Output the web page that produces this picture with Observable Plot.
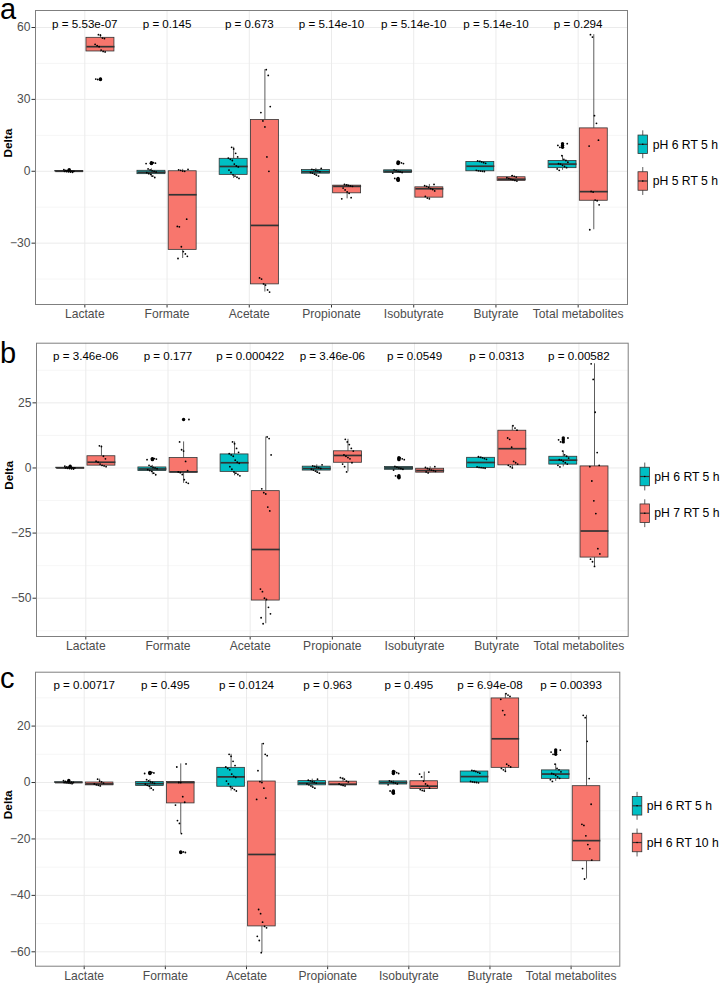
<!DOCTYPE html>
<html>
<head>
<meta charset="utf-8">
<script src="https://cdn.jsdelivr.net/npm/d3@7"></script>
<script src="https://cdn.jsdelivr.net/npm/@observablehq/plot@0.6"></script>
<style>
  body { margin: 0; background: #fff; font-family: "Liberation Sans", Arial, sans-serif; }
  #root { position: relative; width: 720px; height: 986px; overflow: hidden; background: #fff; }
  .panel { position: absolute; left: 0; }
  #overlay { position: absolute; left: 0; top: 0; pointer-events: none; }
</style>
</head>
<body>
<div id="root"></div>
<script>
// ---------------- DATA ----------------
const categories = ["Lactate", "Formate", "Acetate", "Propionate", "Isobutyrate", "Butyrate", "Total metabolites"];
const ctrlLabel = "pH 6 RT 5 h";
const trtLabels = ["pH 5 RT 5 h", "pH 7 RT 5 h", "pH 6 RT 10 h"];
const panelLetters = ["a", "b", "c"];

const pValuesA = ["5.53e-07", "0.145", "0.673", "5.14e-10", "5.14e-10", "5.14e-10", "0.294"];
const pValuesB = ["3.46e-06", "0.177", "0.000422", "3.46e-06", "0.0549", "0.0313", "0.00582"];
const pValuesC = ["0.00717", "0.495", "0.0124", "0.963", "0.495", "6.94e-08", "0.00393"];

// box stats per category: [lower whisker, Q1, median, Q3, upper whisker]
const ctrlStats = [
  [-0.4, -0.1, 0, 0.1, 0.4],
  [-2.6, -1.2, -0.4, 0.2, 1.0],
  [-3, -1.5, 2, 5.2, 10],
  [-2, -1, -0.2, 0.5, 1.2],
  [-0.8, -0.7, 0, 0.4, 0.6],
  [-0.1, 0, 2.1, 3.9, 4.3],
  [0.4, 1.3, 3, 4.3, 6.5]
];
const ctrlPoints = [
  [0.7, 0.4, 0.3, 0.2, 0.1, 0, 0, -0.1, -0.2, -0.3, -0.4],
  [3.6, 3.4, 3.2, 1.0, 0.6, 0.2, 0, -0.3, -0.6, -1.0, -1.3, -2.0, -2.6],
  [10, 9.3, 7.5, 6, 5.5, 5, 4.5, 3, 2.2, 1.8, 0.5, -0.5, -1.5, -2, -2.5, -3],
  [1.2, 0.8, 0.6, 0.3, 0.1, -0.2, -0.5, -0.8, -1.2, -1.6, -2],
  [3.9, 3.5, 3.2, 0.6, 0.3, 0, -0.2, -0.5, -0.8, -3.0, -3.4, -3.8],
  [4.3, 4.1, 3.9, 3.6, 3.3, 0.4, 0.2, 0.1, 0, -0.1],
  [11.5, 10.8, 10, 6.5, 5, 4.5, 3.8, 3.2, 3, 2.5, 2, 1.5, 1, 0.4]
];

const trtAStats = [
  [49.8, 50, 52, 55.7, 57],
  [-36.4, -32.8, -9.8, 0, 0.8],
  [-50.4, -47.2, -22.6, 21.4, 42.4],
  [-11.5, -9.2, -6.3, -6, -5.5],
  [-11.5, -11, -7.3, -6.7, -5.5],
  [-4.2, -4, -3.3, -2.5, -1.8],
  [-24.4, -12.3, -8.5, 17.9, 57]
];
const trtAPoints = [
  [57, 56.8, 55.6, 55.4, 53, 52.4, 52, 50.6, 50, 49.8, 38.5, 38.3],
  [0.8, 0.6, 0.4, 0.1, 0, -20, -23, -23.2, -31.5, -33.5, -34.5, -35.5, -36.4],
  [42.4, 40, 27, 24.5, 21, 18.5, 6, 0, -44.5, -45, -47, -47.5, -49.5, -50.4],
  [-5.5, -5.7, -5.9, -6.1, -6.3, -7, -7.8, -8.6, -9.2, -11, -11.5],
  [-5.5, -6, -6.3, -6.7, -7.2, -7.6, -8.2, -10.5, -11.2, -11.5],
  [-1.8, -2.1, -2.4, -2.7, -3, -3.3, -3.5, -3.8, -4.1],
  [57, 56, 23.2, 20, 13, 10.5, -8.4, -8.7, -12, -12.3, -14, -24.4]
];

const trtBStats = [
  [0.5, 0.9, 2.2, 4.5, 8.5],
  [-5.9, -1.8, -1.5, 3.8, 10],
  [-59.8, -50.9, -31.3, -8.9, 11.9],
  [-1.5, 2.0, 4.8, 6.4, 11],
  [-1.9, -1.8, -1.0, -0.3, 0.5],
  [0, 1.0, 7.4, 14.3, 16.2],
  [-37.8, -34.4, -24.2, 0.6, 40]
];
const trtBPoints = [
  [8.5, 8.2, 4.5, 3.5, 2.6, 2.2, 1.5, 1, 0.8, 0.5],
  [18.6, 10, 7, 6.5, 2.5, -1, -1.5, -1.8, -2.5, -4.5, -5.5, -5.9],
  [11.9, 11.3, 5, -8, -9.5, -10, -15, -16.5, -46.5, -47.5, -50, -50.5, -53.5, -56, -57.5, -59.8],
  [11, 10, 9, 7.5, 6.5, 5, 4.5, 4, 3.5, 2, 1.5, 0.5, -1.5],
  [0.5, 0.2, -0.2, -0.5, -0.8, -1, -1.3, -1.5, -1.9],
  [16.2, 15.3, 14.5, 11.5, 11, 8, 2.5, 2, 1.5, 1, 0.5, 0],
  [40, 34, 21.4, 5.9, 1, 0.5, -5, -12.6, -17.5, -31, -33, -35, -36, -37.8]
];

const trtCStats = [
  [-1.2, -1, -0.5, 0, 1.2],
  [-18.1, -7.4, 0, 0.2, 6.6],
  [-60.3, -51, -25.5, 0.35, 13.8],
  [-1.5, -1, -0.6, 0.3, 1.7],
  [-3, -2.3, -1.3, 0.45, 3.7],
  [4, 5.2, 15.5, 29.8, 31.5],
  [-34.2, -27.9, -20.6, -1.3, 23.8]
];
const trtCPoints = [
  [1.2, 0.5, 0.2, -0.2, -0.5, -0.8, -1, -1.2],
  [6.6, 5.5, 0, 0, -5, -7, -8, -13.5, -14.5, -18.1, -24.6, -24.8],
  [13.8, 10, 9.5, 4.2, 0.3, 0, -2, -5.5, -6, -45, -46.5, -49.5, -51, -51.5, -54.5, -56, -60.3],
  [1.7, 1.5, 1.2, 0.5, 0.2, -0.5, -0.8, -1, -1.2],
  [3.7, 3, 2, 0.5, -0.5, -1, -2, -2.5, -2.8, -3],
  [31.5, 31, 30.5, 29.5, 25.5, 24, 6.5, 6, 5.5, 5, 4.5, 4],
  [23.8, 23, 14.6, 1.4, -7.7, -14.8, -15.2, -18.9, -22, -23.5, -27.5, -30.5, -34.2]
];

const yTicksA = [-30, 0, 30, 60], yMinorA = [-45, -15, 15, 45];
const yTicksB = [-50, -25, 0, 25], yMinorB = [-62.5, -37.5, -12.5, 12.5, 37.5];
const yTicksC = [-60, -40, -20, 0, 20], yMinorC = [-50, -30, -10, 10, 30];

// ---------------- STYLE / LAYOUT ----------------
const TEAL = "#00BFC4", RED = "#F8766D", LINE = "#333333";
const FONT = "'Liberation Sans', Arial, Helvetica, sans-serif";

const panels = [
  { top: 0, width: 630, height: 320, mt: 10, mb: 16, ml: 35, mr: 3, ydomain: [-55.6, 67.1], ticks: yTicksA, minor: yMinorA, pY: 61.3, pvals: pValuesA, stats: trtAStats, points: trtAPoints, trt: trtLabels[0],
    legend: { left: 638, centers: [144.3, 181], labelX: 652.7 }, letterY: 19 },
  { top: 320, width: 631, height: 336, mt: 22.7, mb: 20, ml: 36, mr: 3.3, ydomain: [-64.7, 47.9], ticks: yTicksB, minor: yMinorB, pY: 42.8, pvals: pValuesB, stats: trtBStats, points: trtBPoints, trt: trtLabels[1],
    legend: { left: 640, centers: [476.5, 513.2], labelX: 654.3 }, letterY: 363 },
  { top: 650, width: 622, height: 336, mt: 21.7, mb: 20.3, ml: 35, mr: 2.7, ydomain: [-65.1, 39.1], ticks: yTicksC, minor: yMinorC, pY: 34.4, pvals: pValuesC, stats: trtCStats, points: trtCPoints, trt: trtLabels[2],
    legend: { left: 632.3, centers: [805.8, 842.5], labelX: 646.7 }, letterY: 688 }
];

function makePanel(cfg) {
  const groups = [
    { stats: ctrlStats, points: ctrlPoints, color: TEAL, off: -0.19 },
    { stats: cfg.stats, points: cfg.points, color: RED, off: 0.19 }
  ];
  const half = 0.17;
  const boxes = [], dots = [], outliers = [];
  groups.forEach((g, gi) => categories.forEach((c, ci) => {
    const [lo, q1, med, q3, hi] = g.stats[ci];
    const cx = ci + g.off;
    boxes.push({ cx, lo, q1, med, q3, hi, color: g.color });
    g.points[ci].forEach((v, j) => {
      const jit = ((((j * 37 + ci * 11 + gi * 5) % 17) / 16) - 0.5) * 0.13;
      dots.push({ x: cx + jit, y: v });
      if (v < lo - 1e-9 || v > hi + 1e-9) outliers.push({ x: cx, y: v });
    });
  }));
  const idx = d3.range(categories.length);
  return Plot.plot({
    width: cfg.width, height: cfg.height,
    marginTop: cfg.mt, marginBottom: cfg.mb, marginLeft: cfg.ml, marginRight: cfg.mr,
    style: { fontFamily: FONT, fontSize: "12px", background: "transparent", overflow: "visible" },
    x: { domain: [-0.6, 6.6] },
    y: { domain: cfg.ydomain },
    color: { type: "identity" },
    marks: [
      Plot.frame({ fill: "white", stroke: null }),
      Plot.gridY(cfg.minor, { stroke: "#f2f2f2", strokeOpacity: 1, strokeWidth: 0.7 }),
      Plot.gridY(cfg.ticks, { stroke: "#ebebeb", strokeOpacity: 1, strokeWidth: 1 }),
      Plot.gridX(idx, { stroke: "#ebebeb", strokeOpacity: 1, strokeWidth: 1 }),
      Plot.ruleX(boxes, { x: "cx", y1: "lo", y2: "q1", stroke: LINE, strokeWidth: 0.8 }),
      Plot.ruleX(boxes, { x: "cx", y1: "q3", y2: "hi", stroke: LINE, strokeWidth: 0.8 }),
      Plot.rect(boxes, { x1: d => d.cx - half, x2: d => d.cx + half, y1: "q1", y2: "q3", fill: "color", stroke: LINE, strokeWidth: 0.8 }),
      Plot.link(boxes, { x1: d => d.cx - half, x2: d => d.cx + half, y1: "med", y2: "med", stroke: LINE, strokeWidth: 1.7 }),
      Plot.dot(outliers, { x: "x", y: "y", r: 1.7, fill: "black", stroke: null }),
      Plot.dot(dots, { x: "x", y: "y", r: 0.9, fill: "black", stroke: null }),
      Plot.text(idx, { x: i => i, y: () => cfg.pY, text: i => "p = " + cfg.pvals[i], fontSize: 11.6, fill: "black" }),
      Plot.axisX(idx, { tickFormat: i => categories[i], tickSize: 3.5, tickPadding: 1.5, stroke: LINE, fill: "#4d4d4d", fontSize: 12.1, label: null }),
      Plot.axisY(cfg.ticks, { tickSize: 3.5, tickPadding: 1.5, stroke: LINE, fill: "#4d4d4d", fontSize: 12.1, label: null }),
      Plot.text(["Delta"], { frameAnchor: "left", dx: -27.5, rotate: -90, text: d => d, fontWeight: "bold", fontSize: 11.8, fill: "black" }),
      Plot.frame({ stroke: "#7f7f7f", strokeWidth: 1 })
    ]
  });
}

const root = document.getElementById("root");
panels.forEach(cfg => {
  const div = document.createElement("div");
  div.className = "panel";
  div.style.top = cfg.top + "px";
  div.appendChild(makePanel(cfg));
  root.appendChild(div);
});

// overlay: panel letters and legends
const svg = d3.select(root).append("svg").attr("id", "overlay")
  .attr("width", 720).attr("height", 986)
  .style("font-family", FONT);

panels.forEach((cfg, pi) => {
  svg.append("text").attr("x", 0).attr("y", cfg.letterY)
    .attr("font-size", 29).attr("fill", "black").text(panelLetters[pi]);
  const L = cfg.legend;
  const items = [{ label: ctrlLabel, color: TEAL }, { label: cfg.trt, color: RED }];
  items.forEach((it, k) => {
    const cy = L.centers[k], bw = 9.5, bh = 18.5, wh = 4.7;
    const cx = L.left + bw / 2;
    const g = svg.append("g");
    g.append("line").attr("x1", cx).attr("x2", cx).attr("y1", cy - bh / 2 - wh).attr("y2", cy + bh / 2 + wh)
      .attr("stroke", LINE).attr("stroke-width", 0.8);
    g.append("rect").attr("x", L.left).attr("y", cy - bh / 2).attr("width", bw).attr("height", bh)
      .attr("fill", it.color).attr("stroke", LINE).attr("stroke-width", 0.8);
    g.append("line").attr("x1", L.left).attr("x2", L.left + bw).attr("y1", cy).attr("y2", cy)
      .attr("stroke", LINE).attr("stroke-width", 1.2);
    g.append("circle").attr("cx", cx).attr("cy", cy).attr("r", 0.8).attr("fill", "black");
    g.append("text").attr("x", L.labelX).attr("y", cy).attr("dy", "0.35em")
      .attr("font-size", 12.2).attr("fill", "black").text(it.label);
  });
});
</script>
</body>
</html>
